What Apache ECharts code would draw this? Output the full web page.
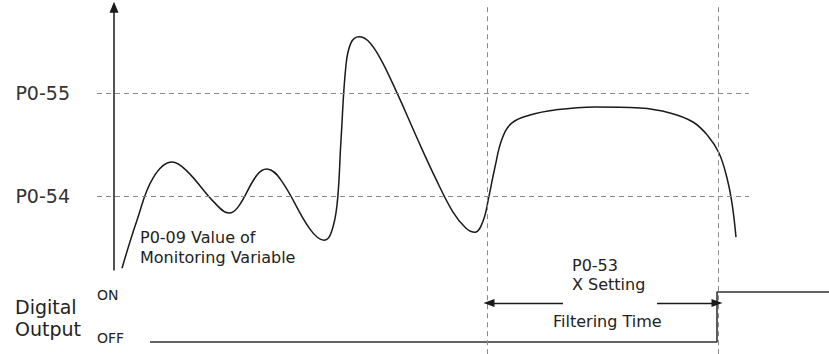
<!DOCTYPE html>
<html>
<head>
<meta charset="utf-8">
<script src="https://cdn.jsdelivr.net/npm/echarts@6/dist/echarts.min.js"></script>
<style>html,body{margin:0;padding:0;background:#fff;}#c{width:829px;height:354px;}</style>
</head>
<body>
<div id="c"></div>
<script>
// Time axis (t = 0 at the vertical axis), level axis with P0-54 = 54, P0-55 = 55
const curveT = [8,23,39,58,72,101,115,124,143,153,167,196,210,217,223,227,232,237,245,254,266,283,303,321,339,352,361,369,375,381,388,398,416,441,481,526,556,579,594,605,613,618,622];
const curveV = [53.301,53.767,54.175,54.330,54.252,53.932,53.835,53.893,54.204,54.262,54.155,53.680,53.573,53.641,53.913,54.544,55.272,55.485,55.544,55.505,55.340,55.000,54.563,54.184,53.845,53.689,53.650,53.757,54.000,54.282,54.553,54.709,54.786,54.835,54.864,54.854,54.806,54.718,54.583,54.417,54.175,53.932,53.602];
const levelValues = [54, 55];
const levelLabels = ['P0-54', 'P0-55'];
const filterMarks = [373, 604];          // start / end of filtering time
const axisArrow = [53.28, 55.83];        // vertical axis extent (levels)
const markTop = 55.83, markBottom = 52.47;
const digitalT = [36, 603, 603, 715];
const digitalV = [0, 0, 1, 1];           // OFF = 0, ON = 1
const arrowLevel = 0.78;
const arrowLeft = [375, 449];
const arrowRight = [543, 603];

const chart = echarts.init(document.getElementById('c'), null, {renderer: 'svg'});
const FONT = 'DejaVu Sans';
const ink = '#1a1a1a';
const dash = {type: [5, 4], color: '#8a8a8a', width: 1};

const curveData = curveT.map((t, i) => [t, curveV[i]]);
const digitalData = digitalT.map((t, i) => [t, digitalV[i]]);

const option = {
  animation: false,
  grid: [
    {left: 97, right: 80, top: 0, bottom: 0},
    {left: 0, right: 0, top: 280, height: 74}
  ],
  xAxis: [
    {type: 'value', min: -17, max: 635, show: false},
    {type: 'value', gridIndex: 1, min: -114, max: 715, show: false}
  ],
  yAxis: [
    {type: 'value', min: 52.47, max: 55.9, show: false},
    {type: 'value', gridIndex: 1, min: -0.24, max: 1.24, show: false}
  ],
  series: [
    {
      type: 'line', data: [], xAxisIndex: 0, yAxisIndex: 0, silent: true,
      markLine: {
        silent: true, symbol: ['none', 'none'], animation: false,
        lineStyle: dash,
        label: {show: false},
        data: levelValues.map((v, i) => ({
          yAxis: v, name: levelLabels[i],
          label: {show: true, position: 'start', formatter: levelLabels[i], distance: 27,
                  fontFamily: FONT, fontSize: 19, color: '#333'}
        })).concat(filterMarks.map(t => [{coord: [t, markTop]}, {coord: [t, markBottom]}]))
      }
    },
    {
      type: 'line', data: [], xAxisIndex: 0, yAxisIndex: 0, silent: true,
      markLine: {
        silent: true, symbol: ['none', 'triangle'], symbolSize: [9, 11], animation: false,
        lineStyle: {type: 'solid', color: ink, width: 1.5},
        label: {show: false},
        data: [[{coord: [0, axisArrow[0]]}, {coord: [0, axisArrow[1]]}]]
      }
    },
    {
      type: 'line', data: curveData, xAxisIndex: 0, yAxisIndex: 0,
      smooth: 0.4, showSymbol: false, silent: true,
      lineStyle: {color: ink, width: 1.5}
    },
    {
      type: 'line', data: digitalData, xAxisIndex: 1, yAxisIndex: 1,
      showSymbol: false, silent: true,
      lineStyle: {color: '#333', width: 1.6}
    },
    {
      type: 'line', data: [], xAxisIndex: 1, yAxisIndex: 1, silent: true,
      markLine: {
        silent: true, animation: false, symbolSize: [8, 11],
        lineStyle: {type: 'solid', color: ink, width: 1.3},
        label: {show: false},
        data: [
          [{coord: [arrowLeft[0], arrowLevel], symbol: 'triangle'}, {coord: [arrowLeft[1], arrowLevel], symbol: 'none'}],
          [{coord: [arrowRight[0], arrowLevel], symbol: 'none'}, {coord: [arrowRight[1], arrowLevel], symbol: 'triangle'}]
        ]
      }
    }
  ],
  graphic: [
    {type: 'text', left: 15, top: 297, style: {text: 'Digital', fontFamily: FONT, fontSize: 19, fill: '#222'}},
    {type: 'text', left: 15, top: 319, style: {text: 'Output', fontFamily: FONT, fontSize: 19, fill: '#222'}},
    {type: 'text', left: 97, top: 288, style: {text: 'ON', fontFamily: FONT, fontSize: 14, fill: '#222'}},
    {type: 'text', left: 97, top: 331, style: {text: 'OFF', fontFamily: FONT, fontSize: 14, fill: '#222'}},
    {type: 'text', left: 140, top: 229, style: {text: 'P0-09 Value of', fontFamily: FONT, fontSize: 16, fill: '#222'}},
    {type: 'text', left: 140, top: 249, style: {text: 'Monitoring Variable', fontFamily: FONT, fontSize: 16, fill: '#222'}},
    {type: 'text', left: 572, top: 257, style: {text: 'P0-53', fontFamily: FONT, fontSize: 16, fill: '#222'}},
    {type: 'text', left: 572, top: 276, style: {text: 'X Setting', fontFamily: FONT, fontSize: 16, fill: '#222'}},
    {type: 'text', left: 553, top: 313, style: {text: 'Filtering Time', fontFamily: FONT, fontSize: 16, fill: '#222'}}
  ]
};
chart.setOption(option);
</script>
</body>
</html>
